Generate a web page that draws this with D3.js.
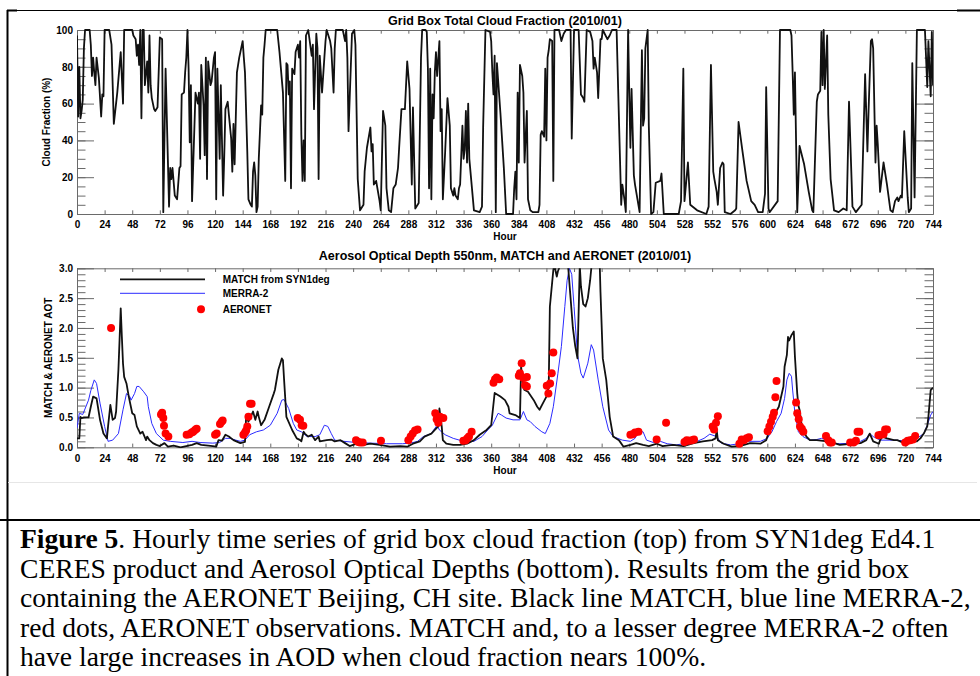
<!DOCTYPE html>
<html>
<head>
<meta charset="utf-8">
<script src="https://cdn.jsdelivr.net/npm/d3@7"></script>
<style>
  html, body { margin: 0; padding: 0; background: #fff; }
  svg { display: block; }
</style>
</head>
<body>
<svg id="fig" width="980" height="676"></svg>
<script>
// ---- Data: hour of month (2010/01) and value -------------------------------
const hourTicks = d3.range(0, 745, 24);
const cloudTicks = [0, 20, 40, 60, 80, 100];
const aotTicks = [0, 0.5, 1.0, 1.5, 2.0, 2.5, 3.0];

// Grid box total cloud fraction (%)
const cloudFraction = [
[0,97],[1,53],[2,80],[3,52],[4,56],[5,62],[6,90],[7,100],[11,100],[12,92],[13,75],[14,85],[15,77],[16,70],[17,85],[19,74],[21,53],[22,65],[23,64],[24,100],[28,100],[30,92],[32,49],[35,66],[38,88],[40,60],[41,100],[48,100],[49,97],[51,95],[52,86],[53,92],[54,81],[55,100],[56,52],[57,100],[58,100],[59,70],[61,83],[62,66],[63,97],[64,70],[65,63],[67,57],[68,56],[70,58],[72,96],[74,95],[75,1],[77,79],[80,4],[81,25],[82,19],[83,25],[85,10],[87,8],[89,25],[90,26],[91,65],[93,66],[94,77],[95,85],[96,100],[97,79],[98,39],[99,70],[100,7],[103,66],[105,60],[106,66],[107,30],[108,81],[110,59],[111,32],[112,85],[113,19],[114,83],[116,70],[117,72],[119,85],[120,88],[121,8],[122,79],[124,30],[125,70],[127,10],[128,32],[129,57],[131,61],[132,54],[134,41],[135,23],[136,49],[137,27],[139,77],[141,85],[142,88],[144,94],[145,85],[146,77],[148,34],[149,8],[151,5],[152,4],[153,23],[154,28],[155,21],[156,1],[157,4],[158,30],[160,59],[161,54],[162,85],[163,92],[164,100],[174,100],[176,88],[179,66],[181,18],[182,82],[183,81],[184,65],[185,72],[186,14],[187,79],[189,76],[190,88],[192,92],[193,85],[194,94],[195,43],[196,18],[197,40],[198,18],[199,97],[201,100],[204,86],[205,92],[206,57],[208,98],[209,90],[210,19],[211,86],[213,66],[215,85],[216,94],[217,100],[220,94],[221,90],[223,66],[224,90],[225,100],[231,100],[233,94],[234,100],[235,85],[236,45],[239,98],[241,100],[242,92],[244,19],[246,2],[249,5],[250,23],[252,36],[255,47],[256,34],[257,38],[258,16],[260,18],[263,7],[264,2],[266,56],[268,48],[269,14],[271,2],[273,1],[275,14],[277,16],[279,25],[280,36],[282,57],[285,57],[287,83],[289,68],[291,16],[292,58],[294,3],[297,6],[299,85],[300,100],[303,100],[304,99],[305,79],[306,14],[307,79],[308,8],[309,65],[310,52],[311,77],[312,88],[313,75],[315,94],[316,45],[317,57],[318,8],[320,34],[322,63],[324,48],[325,14],[327,10],[328,14],[329,10],[331,8],[332,14],[333,16],[335,48],[336,30],[337,35],[338,56],[339,28],[340,60],[341,30],[343,16],[345,2],[350,1],[352,4],[353,47],[355,100],[359,99],[360,94],[361,77],[362,65],[363,86],[364,1],[365,82],[368,55],[371,25],[373,0],[379,0],[380,14],[381,23],[382,8],[383,66],[384,28],[385,81],[387,75],[388,66],[389,28],[391,56],[392,8],[394,2],[396,1],[401,1],[402,5],[403,43],[404,45],[406,42],[407,79],[408,40],[409,85],[410,89],[411,95],[413,94],[414,18],[415,100],[419,100],[421,94],[423,98],[425,100],[429,100],[430,41],[432,100],[436,100],[438,65],[440,63],[441,61],[443,100],[446,99],[448,94],[449,79],[450,85],[452,77],[453,63],[455,95],[456,95],[457,100],[461,95],[463,97],[465,100],[469,100],[473,5],[474,16],[476,7],[477,1],[479,100],[480,66],[481,36],[482,68],[484,21],[485,16],[489,1],[491,89],[492,48],[493,52],[494,90],[496,100],[497,48],[499,0],[501,1],[503,17],[507,18],[508,22],[510,0],[523,0],[525,7],[527,79],[528,7],[531,28],[533,5],[539,2],[547,0],[549,4],[551,81],[553,23],[554,19],[556,12],[557,5],[559,25],[561,28],[562,27],[563,1],[568,0],[572,2],[573,3],[575,50],[578,36],[582,18],[586,7],[589,5],[592,1],[596,1],[598,11],[599,69],[601,3],[602,1],[609,7],[611,100],[620,100],[621,97],[622,77],[623,54],[624,77],[626,1],[628,37],[632,27],[636,12],[639,2],[640,1],[643,61],[644,65],[646,67],[647,99],[648,70],[649,100],[650,68],[652,97],[653,54],[655,19],[658,2],[662,1],[666,3],[669,2],[671,61],[674,4],[677,1],[682,5],[685,76],[687,34],[688,56],[690,94],[691,95],[692,90],[694,28],[695,48],[696,38],[698,12],[701,28],[704,16],[707,2],[709,1],[711,7],[713,9],[714,7],[716,10],[717,9],[719,45],[722,9],[723,1],[725,3],[726,82],[728,9],[730,100],[737,100],[739,69],[740,94],[742,64],[743,99],[744,70]
];

// MATCH from SYN1deg, AOD 550nm
const matchAot = [
[0,0.15],[2,0.15],[3,0.51],[4,0.49],[6,0.5],[10,0.5],[12,0.68],[14,0.85],[17,0.82],[20,0.46],[23,0.23],[26,0.15],[27,0.35],[29,0.71],[31,0.46],[33,0.49],[34,0.6],[36,1.3],[37,1.8],[38,2.33],[39,1.85],[40,1.4],[41,1.18],[43,1.07],[45,0.85],[48,0.57],[50,0.54],[52,0.35],[55,0.23],[57,0.26],[60,0.12],[61,0.18],[63,0.12],[66,0.07],[69,0.04],[72,0.02],[76,0.07],[79,0.01],[84,0.03],[90,0.0],[95,0.02],[100,0.04],[104,0.07],[108,0.04],[118,0.02],[121,0.01],[123,0.12],[126,0.11],[129,0.21],[132,0.18],[136,0.12],[142,0.07],[146,0.09],[147,0.51],[149,0.43],[151,0.51],[153,0.6],[155,0.46],[157,0.6],[158,0.51],[160,0.37],[163,0.46],[167,0.68],[171,0.9],[172,0.96],[175,1.3],[178,1.49],[179,1.46],[180,1.13],[182,0.51],[187,0.29],[191,0.15],[194,0.12],[195,0.1],[197,0.26],[198,0.23],[201,0.18],[204,0.21],[207,0.12],[210,0.18],[211,0.1],[217,0.12],[221,0.13],[224,0.1],[229,0.12],[233,0.07],[237,0.02],[243,0.06],[249,0.04],[255,0.06],[263,0.04],[272,0.01],[281,0.02],[287,0.01],[292,0.06],[298,0.1],[302,0.18],[308,0.23],[311,0.29],[314,0.35],[315,0.65],[317,0.35],[318,0.12],[321,0.06],[327,0.04],[333,0.04],[339,0.06],[345,0.12],[350,0.21],[356,0.29],[360,0.37],[363,0.91],[368,0.85],[372,0.79],[375,0.68],[376,0.57],[381,0.54],[385,0.49],[386,1.35],[388,1.0],[389,0.96],[392,0.93],[397,0.79],[400,0.68],[402,0.63],[405,0.74],[408,0.85],[410,1.02],[411,2.36],[414,2.97],[415,3.08],[416,2.95],[417,2.86],[418,2.95],[419,3.0],[421,3.4],[424,3.8],[426,3.3],[427,3.0],[429,2.5],[431,2.0],[433,1.7],[435,1.49],[437,3.05],[438,2.7],[440,2.4],[442,2.36],[444,2.5],[446,2.8],[448,3.2],[451,3.6],[454,3.3],[455,2.6],[457,1.49],[460,1.13],[463,0.51],[466,0.18],[471,0.12],[475,0.01],[481,0.04],[486,0.07],[492,0.04],[497,0.02],[504,0.06],[509,0.02],[518,0.04],[527,0.02],[536,0.07],[544,0.1],[552,0.12],[555,0.15],[556,0.29],[557,0.12],[562,0.06],[569,0.01],[576,0.02],[585,0.07],[594,0.06],[599,0.12],[602,0.29],[605,0.51],[610,0.68],[614,1.02],[615,1.35],[617,1.55],[618,1.85],[619,1.79],[621,1.88],[623,1.94],[624,1.52],[626,0.9],[627,0.7],[628,0.63],[630,0.35],[631,0.29],[634,0.18],[637,0.12],[643,0.12],[652,0.1],[657,0.08],[663,0.04],[675,0.06],[681,0.07],[686,0.12],[689,0.23],[692,0.1],[697,0.06],[698,0.12],[700,0.18],[704,0.15],[710,0.12],[713,0.12],[720,0.06],[724,0.1],[730,0.1],[733,0.15],[736,0.23],[739,0.35],[740,0.51],[742,0.96],[744,1.0]
];

// MERRA-2, AOD 550nm
const merraAot = [
[0,0.32],[2,0.57],[5,0.55],[10,0.79],[12,0.95],[15,1.13],[17,1.07],[20,0.74],[24,0.35],[27,0.1],[31,0.12],[36,0.23],[40,0.63],[43,0.9],[46,0.85],[47,0.79],[50,0.9],[52,1.02],[54,1.02],[58,0.93],[61,0.85],[62,0.68],[65,0.4],[69,0.23],[75,0.12],[81,0.1],[92,0.08],[100,0.1],[107,0.08],[118,0.07],[124,0.08],[129,0.15],[133,0.15],[138,0.12],[142,0.1],[146,0.12],[150,0.21],[156,0.26],[162,0.29],[168,0.37],[174,0.57],[178,0.79],[180,0.8],[184,0.65],[188,0.4],[191,0.29],[195,0.26],[200,0.18],[207,0.18],[211,0.21],[215,0.37],[218,0.35],[221,0.23],[224,0.12],[232,0.1],[243,0.08],[255,0.07],[269,0.06],[283,0.06],[290,0.07],[296,0.1],[301,0.18],[308,0.23],[310,0.29],[313,0.37],[315,0.29],[320,0.21],[327,0.15],[336,0.1],[345,0.1],[352,0.18],[357,0.29],[361,0.37],[366,0.57],[369,0.54],[373,0.49],[379,0.46],[385,0.46],[388,0.6],[391,0.46],[394,0.43],[398,0.35],[404,0.26],[407,0.23],[411,0.4],[414,0.68],[418,1.24],[421,1.69],[424,2.36],[426,2.8],[428,3.0],[430,2.9],[432,2.36],[435,1.55],[438,1.24],[440,1.16],[444,1.41],[447,1.72],[449,1.63],[453,1.13],[457,0.68],[462,0.29],[466,0.18],[474,0.12],[481,0.1],[485,0.15],[488,0.26],[492,0.26],[495,0.12],[501,0.08],[507,0.1],[513,0.06],[521,0.04],[530,0.07],[539,0.1],[545,0.15],[550,0.22],[556,0.18],[560,0.07],[568,0.04],[576,0.06],[582,0.1],[594,0.1],[600,0.15],[602,0.21],[604,0.26],[608,0.43],[612,0.57],[615,0.82],[617,1.13],[619,1.24],[621,1.19],[622,0.96],[624,0.57],[627,0.26],[631,0.18],[637,0.12],[643,0.13],[647,0.15],[652,0.12],[656,0.07],[663,0.06],[675,0.07],[681,0.1],[686,0.15],[689,0.23],[692,0.18],[698,0.12],[710,0.12],[718,0.11],[724,0.13],[730,0.15],[736,0.23],[739,0.37],[742,0.54],[744,0.6]
];

// AERONET Beijing observations
const aeronetAot = [
[29.6,2.0],[73,0.55],[74,0.58],[75,0.49],[75.6,0.36],[77,0.23],[79.4,0.18],[95.3,0.21],[97.6,0.22],[99.7,0.25],[101,0.26],[102.6,0.29],[104,0.31],[120,0.21],[121.4,0.23],[124.3,0.39],[125.7,0.43],[126.6,0.45],[144.6,0.21],[146,0.25],[147,0.28],[148,0.35],[149,0.51],[150.4,0.73],[151.8,0.73],[191.8,0.49],[193.8,0.46],[195.3,0.37],[196.7,0.36],[242.5,0.12],[244.5,0.09],[246,0.08],[248.3,0.08],[264.2,0.11],[288,0.12],[290,0.18],[291.8,0.23],[293.8,0.28],[296,0.3],[311.4,0.57],[312.6,0.47],[314,0.41],[315.5,0.51],[318.4,0.49],[335.8,0.11],[337.8,0.12],[339.3,0.15],[340.7,0.18],[343,0.26],[362,1.08],[363.3,1.14],[364.8,1.17],[367,1.14],[384,1.2],[385,1.24],[386.5,1.41],[388,1.16],[389.4,1.04],[391,1.18],[391,1.02],[408.3,1.03],[409.7,0.9],[411.2,1.07],[412.6,1.24],[414,1.59],[481,0.21],[483,0.22],[485,0.25],[488,0.26],[503.8,0.13],[512,0.41],[528,0.09],[530,0.12],[532,0.11],[534.3,0.12],[536.3,0.13],[552.5,0.35],[553.7,0.3],[555.4,0.41],[557,0.52],[575.7,0.06],[577.7,0.13],[579.7,0.12],[582,0.15],[584,0.17],[600.3,0.27],[601.8,0.35],[603.2,0.43],[604.7,0.51],[605.8,0.58],[607,0.84],[608,1.11],[625,0.75],[626,0.57],[627.3,0.47],[628.4,0.35],[630,0.31],[631.3,0.26],[651,0.19],[653,0.12],[654.5,0.08],[656,0.08],[672,0.08],[675,0.08],[677,0.11],[678.4,0.26],[680,0.26],[696.6,0.2],[698.7,0.21],[701,0.22],[702.4,0.3],[704,0.3],[719.8,0.08],[722,0.11],[724.2,0.12],[726.5,0.13],[728.5,0.19]
];

const legendItems = ["MATCH from SYN1deg", "MERRA-2", "AERONET"];

const captionLines = [
  [["Figure 5", true], [". Hourly time series of grid box cloud fraction (top) from SYN1deg Ed4.1", false]],
  [["CERES product and Aerosol Optical Depths (bottom). Results from the grid box", false]],
  [["containing the AERONET Beijing, CH site. Black line MATCH, blue line MERRA-2,", false]],
  [["red dots, AERONET observations. MATCH and, to a lesser degree MERRA-2 often", false]],
  [["have large increases in AOD when cloud fraction nears 100%.", false]]
];

// ---- Layout ------------------------------------------------------------------
const SANS = '"Liberation Sans", Arial, Helvetica, sans-serif';
const SERIF = '"Liberation Serif", "Times New Roman", Times, serif';
const AXIS = "#6a6a6a";
const X0 = 77, X1 = 933;

const svg = d3.select("#fig");
const x = d3.scaleLinear().domain([0, 744]).range([X0, X1]);

// Page frame (table cell borders)
svg.append("line").attr("x1", 7).attr("x2", 980).attr("y1", 10.5).attr("y2", 10.5)
  .attr("stroke", "#000").attr("stroke-width", 1);
svg.append("line").attr("x1", 7).attr("x2", 17).attr("y1", 10.5).attr("y2", 10.5)
  .attr("stroke", "#000").attr("stroke-width", 2);
svg.append("line").attr("x1", 957).attr("x2", 980).attr("y1", 10.5).attr("y2", 10.5)
  .attr("stroke", "#000").attr("stroke-width", 2);
svg.append("line").attr("x1", 7.5).attr("x2", 7.5).attr("y1", 10).attr("y2", 676)
  .attr("stroke", "#000").attr("stroke-width", 2);
svg.append("line").attr("x1", 8).attr("x2", 977).attr("y1", 482.5).attr("y2", 482.5)
  .attr("stroke", "#e6e6e6").attr("stroke-width", 1);
svg.append("line").attr("x1", 0).attr("x2", 980).attr("y1", 520).attr("y2", 520)
  .attr("stroke", "#000").attr("stroke-width", 2);

// IDL-style boxed panel: ticks point inward on all four sides
function panel(opts) {
  const { y, top, bottom, majors, minors, fmt, title, titleY, ytitle, ytitleX,
          xLabelPad, hourY } = opts;
  const g = svg.append("g");
  const majLen = 17, minLen = 8.5, xLen = 3.7;

  const styleAxis = sel => {
    sel.select(".domain").attr("stroke", AXIS).attr("stroke-width", 1);
    sel.selectAll(".tick line").attr("stroke", AXIS).attr("stroke-width", 1);
    sel.selectAll("text").attr("font-family", SANS).attr("font-weight", "bold")
      .attr("font-size", 10).attr("fill", "#000");
  };

  // bottom axis with hour labels
  g.append("g").attr("transform", `translate(0,${bottom})`)
    .call(d3.axisBottom(x).tickValues(hourTicks).tickSizeInner(-xLen).tickSizeOuter(0)
      .tickPadding(xLabelPad).tickFormat(d3.format("d")))
    .call(styleAxis);
  // top axis
  g.append("g").attr("transform", `translate(0,${top})`)
    .call(d3.axisTop(x).tickValues(hourTicks).tickSizeInner(-xLen).tickSizeOuter(0).tickFormat(""))
    .call(styleAxis);
  // left axis, minors then labelled majors
  g.append("g").attr("transform", `translate(${X0},0)`)
    .call(d3.axisLeft(y).tickValues(minors).tickSizeInner(-minLen).tickSizeOuter(0).tickFormat(""))
    .call(styleAxis);
  g.append("g").attr("transform", `translate(${X0},0)`)
    .call(d3.axisLeft(y).tickValues(majors).tickSizeInner(-majLen).tickSizeOuter(0)
      .tickPadding(4).tickFormat(fmt))
    .call(styleAxis);
  // right axis
  g.append("g").attr("transform", `translate(${X1},0)`)
    .call(d3.axisRight(y).tickValues(minors).tickSizeInner(-minLen).tickSizeOuter(0).tickFormat(""))
    .call(styleAxis);
  g.append("g").attr("transform", `translate(${X1},0)`)
    .call(d3.axisRight(y).tickValues(majors).tickSizeInner(-majLen).tickSizeOuter(0).tickFormat(""))
    .call(styleAxis);

  g.append("text").attr("x", (X0 + X1) / 2).attr("y", titleY).attr("text-anchor", "middle")
    .attr("font-family", SANS).attr("font-weight", "bold").attr("font-size", 12.5).text(title);
  g.append("text").attr("x", (X0 + X1) / 2).attr("y", hourY).attr("text-anchor", "middle")
    .attr("font-family", SANS).attr("font-weight", "bold").attr("font-size", 10).text("Hour");
  g.append("text").attr("transform", `translate(${ytitleX},${(top + bottom) / 2}) rotate(-90)`)
    .attr("text-anchor", "middle").attr("font-family", SANS).attr("font-weight", "bold")
    .attr("font-size", 10).text(ytitle);
  return g;
}

// ---- Top panel: cloud fraction -------------------------------------------------
const yCF = d3.scaleLinear().domain([0, 100]).range([214, 30]);
panel({
  y: yCF, top: 30, bottom: 214, majors: cloudTicks, minors: d3.range(0, 101, 5),
  fmt: d3.format("d"), title: "Grid Box Total Cloud Fraction (2010/01)", titleY: 25,
  ytitle: "Cloud Fraction (%)", ytitleX: 50, xLabelPad: 7.3, hourY: 240
});

svg.append("defs").append("clipPath").attr("id", "clipTop")
  .append("rect").attr("x", X0).attr("y", 28).attr("width", X1 - X0).attr("height", 188);

svg.append("path").datum(cloudFraction)
  .attr("clip-path", "url(#clipTop)")
  .attr("fill", "none").attr("stroke", "#111").attr("stroke-width", 1.8)
  .attr("stroke-linejoin", "round")
  .attr("d", d3.line().x(d => x(d[0])).y(d => yCF(d[1])));

// ---- Bottom panel: aerosol optical depth ----------------------------------------
const yA = d3.scaleLinear().domain([0, 3]).range([447.3, 268.3]);
panel({
  y: yA, top: 268.3, bottom: 447.3, majors: aotTicks, minors: d3.range(0, 31).map(d => d / 10),
  fmt: d3.format(".1f"), title: "Aerosol Optical Depth 550nm, MATCH and AERONET (2010/01)",
  titleY: 260, ytitle: "MATCH & AERONET AOT", ytitleX: 52, xLabelPad: 7.3, hourY: 474
});

svg.select("defs").append("clipPath").attr("id", "clipBot")
  .append("rect").attr("x", X0).attr("y", 268.3).attr("width", X1 - X0).attr("height", 180);

const lineA = d3.line().x(d => x(d[0])).y(d => yA(d[1]));

svg.append("path").datum(merraAot)
  .attr("clip-path", "url(#clipBot)")
  .attr("fill", "none").attr("stroke", "#2b2bff").attr("stroke-width", 1)
  .attr("stroke-linejoin", "round").attr("d", lineA);

svg.append("path").datum(matchAot)
  .attr("clip-path", "url(#clipBot)")
  .attr("fill", "none").attr("stroke", "#111").attr("stroke-width", 1.8)
  .attr("stroke-linejoin", "round").attr("d", lineA);

svg.append("g").selectAll("circle").data(aeronetAot).join("circle")
  .attr("cx", d => x(d[0])).attr("cy", d => yA(d[1])).attr("r", 4)
  .attr("fill", "#ff0000");

// Legend
const leg = svg.append("g");
leg.append("line").attr("x1", 120).attr("x2", 205).attr("y1", 279.3).attr("y2", 279.3)
  .attr("stroke", "#111").attr("stroke-width", 1.8);
leg.append("line").attr("x1", 120).attr("x2", 205).attr("y1", 293.3).attr("y2", 293.3)
  .attr("stroke", "#2b2bff").attr("stroke-width", 1);
leg.append("circle").attr("cx", 201).attr("cy", 309.3).attr("r", 4).attr("fill", "#ff0000");
leg.selectAll("text").data(legendItems).join("text")
  .attr("x", 222.7).attr("y", (d, i) => [283, 297, 313][i])
  .attr("font-family", SANS).attr("font-weight", "bold").attr("font-size", 10)
  .text(d => d);

// ---- Caption ---------------------------------------------------------------------
const cap = svg.append("g").attr("font-family", SERIF).attr("font-size", 27.6).attr("fill", "#000");
captionLines.forEach((parts, i) => {
  const t = cap.append("text").attr("x", 20).attr("y", 548 + i * 29.5);
  parts.forEach(([s, bold]) => {
    t.append("tspan").attr("font-weight", bold ? "bold" : "normal").text(s);
  });
});
</script>
</body>
</html>
